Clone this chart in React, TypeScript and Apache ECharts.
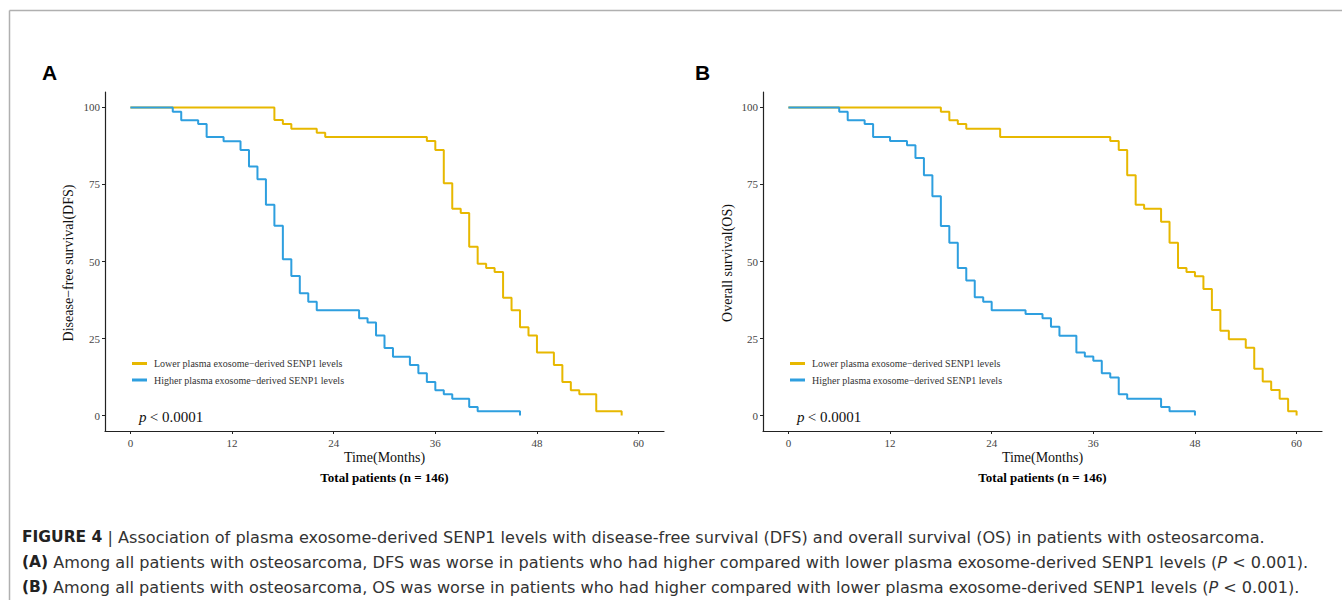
import React, { useEffect, useRef } from "react";
import * as echarts from "echarts";

const xTicks = [0, 12, 24, 36, 48, 60];
const yTicks = [0, 25, 50, 75, 100];

const seriesNames = [
  "Lower plasma exosome\u2212derived SENP1 levels",
  "Higher plasma exosome\u2212derived SENP1 levels",
];
const seriesColors = ["#E7B800", "#2E9FDF"];

// Panel A: disease-free survival
const dfsLowT = [0, 17, 18, 19, 22, 23, 35, 36, 37, 38, 39, 40, 41, 42, 43, 44, 45, 46, 47, 48, 50, 51, 52, 53, 55, 58];
const dfsLowS = [100, 95.9, 94.6, 93.1, 91.8, 90.4, 89.1, 86.2, 75.4, 67.1, 65.7, 54.8, 49.3, 47.9, 46.6, 38.2, 34.2, 28.7, 26.0, 20.5, 16.4, 10.9, 8.2, 6.9, 1.4, 0];
const dfsHighT = [0, 5, 6, 8, 9, 11, 13, 14, 15, 16, 17, 18, 19, 20, 21, 22, 27, 28, 29, 30, 31, 33, 34, 35, 36, 37, 38, 40, 41, 46];
const dfsHighS = [100, 98.6, 95.8, 94.6, 90.4, 89.0, 86.2, 80.8, 76.7, 68.4, 61.6, 50.7, 45.3, 39.7, 36.9, 34.2, 31.6, 30.2, 26.0, 21.9, 19.1, 16.4, 13.7, 10.9, 8.2, 6.9, 5.5, 2.8, 1.4, 0];

// Panel B: overall survival
const osLowT = [0, 18, 19, 20, 21, 25, 38, 39, 40, 41, 42, 44, 45, 46, 47, 48, 49, 50, 51, 52, 54, 55, 56, 57, 58, 59, 60];
const osLowS = [100, 98.6, 95.8, 94.6, 93.1, 90.4, 89.1, 86.2, 78.0, 68.4, 67.1, 62.9, 56.1, 47.9, 46.6, 45.2, 41.1, 34.3, 27.5, 24.8, 22.0, 15.2, 11.1, 8.3, 5.5, 1.4, 0];
const osHighT = [0, 6, 7, 9, 10, 12, 14, 15, 16, 17, 18, 19, 20, 21, 22, 23, 24, 28, 30, 31, 32, 34, 35, 36, 37, 38, 39, 40, 44, 45, 48];
const osHighS = [100, 98.6, 95.8, 94.6, 90.4, 89.1, 87.7, 83.6, 78.0, 71.2, 61.5, 56.1, 47.9, 43.8, 38.4, 36.9, 34.2, 33.0, 31.6, 28.8, 25.9, 20.5, 19.2, 17.8, 13.7, 12.4, 6.9, 5.5, 2.8, 1.4, 0];

const panelLetters = ["A", "B"];
const yTitles = ["Disease\u2212free survival(DFS)", "Overall survival(OS)"];
const xTitle = "Time(Months)";
const subTitle = "Total patients (n = 146)";
const pText = "< 0.0001";

const captionLines = [
  [{ s: "b", t: "FIGURE 4" }, { s: "n", t: " | Association of plasma exosome-derived SENP1 levels with disease-free survival (DFS) and overall survival (OS) in patients with osteosarcoma." }],
  [{ s: "b", t: "(A)" }, { s: "n", t: " Among all patients with osteosarcoma, DFS was worse in patients who had higher compared with lower plasma exosome-derived SENP1 levels (" }, { s: "i", t: "P" }, { s: "n", t: " < 0.001)." }],
  [{ s: "b", t: "(B)" }, { s: "n", t: " Among all patients with osteosarcoma, OS was worse in patients who had higher compared with lower plasma exosome-derived SENP1 levels (" }, { s: "i", t: "P" }, { s: "n", t: " < 0.001)." }],
];

const SERIF = "Liberation Serif";
const SANS = "Liberation Sans";
const CAP = "DejaVu Sans";

const pairs = (t: number[], s: number[]) => t.map((v, i) => [v, s[i]]);

export default function App() {
  const ref = useRef<HTMLDivElement>(null);
  useEffect(() => {
    if (!ref.current) return;
    const chart = echarts.init(ref.current, null, { renderer: "svg" });

    const grids = [
      { left: 105, right: 678, top: 92, bottom: 169 },
      { left: 763, right: 20, top: 92, bottom: 169 },
    ];
    const axisCommon = {
      axisLine: { show: true, onZero: false, lineStyle: { color: "#222", width: 1.2 } },
      axisTick: { show: true, inside: false, length: 3, lineStyle: { color: "#222", width: 1 } },
      splitLine: { show: false },
      axisLabel: { fontFamily: SERIF, fontSize: 11, color: "#444" },
    };
    const xAxes = [0, 1].map((g) => ({
      type: "value",
      gridIndex: g,
      min: -3,
      max: 63,
      ...axisCommon,
      axisTick: { ...axisCommon.axisTick, customValues: xTicks },
      axisLabel: { ...axisCommon.axisLabel, customValues: xTicks, margin: 6 },
    }));
    const yAxes = [0, 1].map((g) => ({
      type: "value",
      gridIndex: g,
      min: -5,
      max: 105,
      ...axisCommon,
      axisTick: { ...axisCommon.axisTick, customValues: yTicks },
      axisLabel: { ...axisCommon.axisLabel, customValues: yTicks, margin: 5 },
    }));

    const mk = (name: string, color: string, g: number, data: number[][]) => ({
      type: "line",
      name,
      xAxisIndex: g,
      yAxisIndex: g,
      step: "end",
      symbol: "none",
      showSymbol: false,
      data,
      lineStyle: { color, width: 2 },
      itemStyle: { color },
      silent: true,
    });
    const series = [
      mk(seriesNames[0], seriesColors[0], 0, pairs(dfsLowT, dfsLowS)),
      mk(seriesNames[1], seriesColors[1], 0, pairs(dfsHighT, dfsHighS)),
      mk(seriesNames[0], seriesColors[0], 1, pairs(osLowT, osLowS)),
      mk(seriesNames[1], seriesColors[1], 1, pairs(osHighT, osHighS)),
    ];

    const legendCommon = {
      orient: "vertical",
      icon: "rect",
      itemWidth: 15,
      itemHeight: 3,
      itemGap: 6.5,
      padding: 0,
      selectedMode: false,
      textStyle: { fontFamily: SERIF, fontSize: 10, color: "#333", padding: [0, 0, 0, 2] },
      data: seriesNames,
    };
    const legends = [
      { ...legendCommon, left: 132, top: 358.5 },
      { ...legendCommon, left: 790, top: 358.5 },
    ];

    const graphic: any[] = [];
    // frame lines
    graphic.push({ type: "line", shape: { x1: 9.5, y1: 10.5, x2: 1342, y2: 10.5 }, style: { stroke: "#b0b0b0", lineWidth: 1.5 } });
    graphic.push({ type: "line", shape: { x1: 9.5, y1: 10.5, x2: 9.5, y2: 600 }, style: { stroke: "#b0b0b0", lineWidth: 1.5 } });

    const panelLeft = [42, 695];
    const yTitleX = [68, 727];
    const centerX = [384.5, 1042.5];
    const pX = [139, 797];
    [0, 1].forEach((g) => {
      graphic.push({
        type: "text", x: panelLeft[g], y: 72,
        style: { text: panelLetters[g], font: `bold 21px ${SANS}`, fill: "#000", align: "left", verticalAlign: "middle" },
      });
      graphic.push({
        type: "text", x: yTitleX[g], y: 263, rotation: Math.PI / 2,
        style: { text: yTitles[g], font: `14px ${SERIF}`, fill: "#111", align: "center", verticalAlign: "middle" },
      });
      graphic.push({
        type: "text", x: centerX[g], y: 457,
        style: { text: xTitle, font: `14px ${SERIF}`, fill: "#111", align: "center", verticalAlign: "middle" },
      });
      graphic.push({
        type: "text", x: centerX[g], y: 477.5,
        style: { text: subTitle, font: `bold 13px ${SERIF}`, fill: "#000", align: "center", verticalAlign: "middle" },
      });
      graphic.push({
        type: "text", x: pX[g], y: 416.5,
        style: {
          text: `{i|p} {n|${pText}}`,
          align: "left", verticalAlign: "middle", fill: "#111",
          rich: {
            i: { fontFamily: SERIF, fontSize: 15, fontStyle: "italic", fill: "#111" },
            n: { fontFamily: SERIF, fontSize: 15, fill: "#111" },
          },
        },
      });
    });

    const capY = [537, 562, 587];
    captionLines.forEach((line, k) => {
      const txt = line.map((p) => `{${p.s}|${p.t}}`).join("");
      graphic.push({
        type: "text", x: 22, y: capY[k],
        style: {
          text: txt,
          align: "left", verticalAlign: "middle",
          rich: {
            b: { fontFamily: CAP, fontSize: 15.5, fontWeight: "bold", fill: "#222" },
            n: { fontFamily: CAP, fontSize: 16.1, fill: "#333" },
            i: { fontFamily: CAP, fontSize: 16.1, fontStyle: "italic", fill: "#333" },
          },
        },
      });
    });

    chart.setOption({
      animation: false,
      backgroundColor: "#fff",
      grid: grids,
      xAxis: xAxes,
      yAxis: yAxes,
      legend: legends,
      series,
      graphic,
    });
    return () => chart.dispose();
  }, []);
  return <div ref={ref} style={{ position: "fixed", left: 0, top: 0, width: 1342, height: 600 }} />;
}
